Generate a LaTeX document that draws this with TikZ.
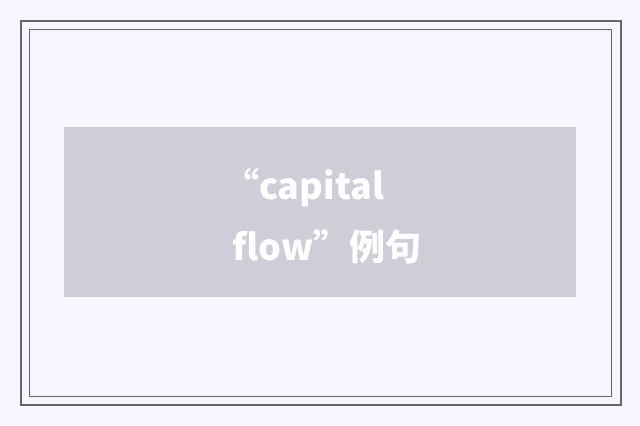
\documentclass[tikz,border=0pt]{standalone}
\usepackage{fontspec}
\newfontfamily\cjk{Noto Sans CJK SC}
\definecolor{pagebg}{RGB}{247,246,254}
\definecolor{framec}{RGB}{102,101,109}
\definecolor{panelc}{RGB}{207,206,216}
\tikzset{
  frameouter/.style={draw=framec, line width=2bp},
  frameinner/.style={draw=framec, line width=1bp},
  panel/.style={fill=panelc, draw=none},
  titletext/.style={text=white, inner sep=0pt, anchor=base, font=\cjk\bfseries\fontsize{36bp}{44bp}\selectfont}
}
\begin{document}
\begin{tikzpicture}[x=1bp, y=-1bp]
  \fill[pagebg] (0,0) rectangle (640,425);
  \useasboundingbox (0,0) rectangle (640,425);
  \draw[frameouter] (21,21) rectangle (621,405);
  \draw[frameinner] (29.5,29.5) rectangle (611,396);
  \path[panel] (64,127) rectangle (576,297);
  \node[titletext] (line1) at (303.5,199) {“capital};
  \node[titletext] (line2) at (327,260) {flow”例句};
\end{tikzpicture}
\end{document}
